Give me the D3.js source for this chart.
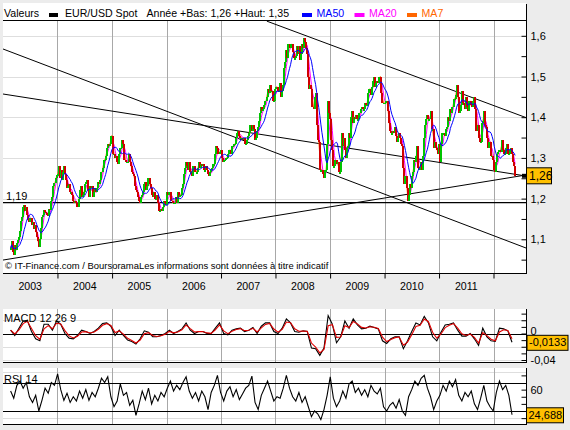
<!DOCTYPE html>
<html><head><meta charset="utf-8">
<script src="https://cdn.jsdelivr.net/npm/d3@7"></script>
<style>
html,body{margin:0;padding:0;background:#ececec;}
svg{display:block;font-family:"Liberation Sans",Arial,sans-serif;}
</style></head><body>
<svg id="c" width="570" height="430"></svg>
<script>
// ---------- DATA ----------
const startDate = "2003-02-21"; // first weekly close
const close2003 = [1.078,1.095,1.070,1.062,1.085,1.073,1.090,1.098,1.105,1.120,1.145,1.156,1.180,1.185,1.170,1.180,1.160,1.148,1.142,1.152,1.135,1.143,1.125,1.135,1.118,1.105,1.095,1.080,1.100,1.128,1.155,1.160,1.172,1.168,1.165,1.160,1.158,1.175,1.172,1.195,1.205,1.230,1.238,1.250,1.258];
const close2004 = [1.260,1.280,1.250,1.270,1.245,1.265,1.280,1.260,1.245,1.225,1.230,1.235,1.215,1.215,1.210,1.195,1.190,1.195,1.190,1.180,1.200,1.220,1.230,1.205,1.210,1.215,1.235,1.240,1.245,1.220,1.205,1.230,1.225,1.230,1.205,1.215,1.225,1.215,1.225,1.240,1.235,1.245,1.265,1.275,1.295,1.295,1.305,1.325,1.335,1.330,1.335,1.355,1.355];
const close2005 = [1.310,1.310,1.300,1.305,1.290,1.285,1.310,1.325,1.325,1.345,1.335,1.295,1.290,1.290,1.290,1.310,1.290,1.280,1.265,1.260,1.255,1.230,1.220,1.215,1.205,1.195,1.190,1.205,1.210,1.215,1.235,1.240,1.220,1.230,1.250,1.235,1.225,1.210,1.205,1.215,1.200,1.200,1.210,1.190,1.170,1.170,1.175,1.170,1.180,1.195,1.190,1.185];
const close2006 = [1.215,1.210,1.215,1.215,1.195,1.190,1.190,1.190,1.205,1.190,1.215,1.205,1.210,1.210,1.225,1.235,1.260,1.275,1.290,1.280,1.270,1.290,1.265,1.265,1.255,1.280,1.280,1.265,1.265,1.275,1.290,1.275,1.285,1.280,1.285,1.270,1.270,1.280,1.270,1.260,1.255,1.265,1.270,1.275,1.285,1.285,1.310,1.330,1.325,1.310,1.315,1.320];
const close2007 = [1.300,1.290,1.295,1.295,1.300,1.300,1.310,1.320,1.320,1.310,1.330,1.330,1.335,1.335,1.350,1.360,1.365,1.355,1.350,1.350,1.345,1.350,1.335,1.335,1.345,1.355,1.360,1.380,1.380,1.365,1.380,1.370,1.345,1.350,1.365,1.375,1.390,1.410,1.425,1.415,1.420,1.430,1.440,1.450,1.470,1.460,1.480,1.465,1.465,1.440,1.440,1.470];
const close2008 = [1.475,1.475,1.465,1.465,1.485,1.450,1.465,1.480,1.520,1.535,1.565,1.545,1.580,1.570,1.580,1.580,1.560,1.545,1.545,1.550,1.575,1.555,1.575,1.540,1.555,1.580,1.570,1.595,1.585,1.570,1.555,1.500,1.470,1.480,1.470,1.425,1.420,1.450,1.460,1.380,1.345,1.340,1.270,1.270,1.270,1.260,1.250,1.270,1.270,1.335,1.440,1.410];
const close2009 = [1.395,1.345,1.320,1.280,1.280,1.295,1.285,1.290,1.265,1.265,1.290,1.360,1.330,1.350,1.320,1.300,1.325,1.330,1.360,1.350,1.400,1.415,1.385,1.400,1.395,1.405,1.395,1.395,1.410,1.420,1.425,1.420,1.420,1.435,1.430,1.430,1.460,1.470,1.470,1.455,1.475,1.490,1.500,1.475,1.485,1.490,1.485,1.500,1.500,1.460,1.435,1.435];
const close2010 = [1.435,1.440,1.440,1.415,1.385,1.365,1.360,1.360,1.365,1.360,1.375,1.355,1.340,1.350,1.360,1.350,1.335,1.330,1.275,1.235,1.255,1.225,1.195,1.210,1.235,1.225,1.255,1.265,1.295,1.290,1.305,1.330,1.275,1.270,1.275,1.290,1.270,1.305,1.350,1.380,1.395,1.405,1.395,1.395,1.415,1.370,1.370,1.325,1.340,1.325,1.320,1.310,1.335];
const close2011 = [1.290,1.335,1.360,1.360,1.360,1.355,1.370,1.375,1.400,1.390,1.420,1.410,1.425,1.445,1.445,1.455,1.480,1.450,1.410,1.415,1.430,1.465,1.435,1.430,1.420,1.450,1.425,1.415,1.440,1.440,1.430,1.425,1.440,1.450,1.420,1.365,1.380,1.350,1.340,1.340,1.385,1.390,1.415,1.380,1.375,1.350,1.325,1.340,1.340,1.305,1.305,1.295];
const close2012 = [1.270,1.265,1.290,1.310,1.315,1.320,1.315,1.345,1.320,1.310,1.310,1.325,1.335,1.310,1.310,1.320,1.325,1.310,1.290,1.280,1.256];

// MACD 12 26 9 : one value every 4 weeks
const macdValues = [.005,-.003,.008,.019,.020,.003,-.008,-.011,.014,.014,.005,.019,.014,0,-.007,-.008,-.003,.005,.003,0,.003,.008,.015,.016,.011,-.003,.005,-.003,-.010,-.012,-.016,-.008,.004,.002,-.005,-.005,-.003,0,.005,0,.003,.007,.016,.005,0,.003,.003,0,0,.008,.016,0,-.002,.005,.007,.008,.003,.005,.009,0,.011,.016,.016,.003,0,.008,.022,.016,.003,.002,.004,.003,-.022,-.023,-.033,-.022,.027,.014,-.014,-.005,.019,.008,.022,.013,.007,.008,.011,.009,.007,-.011,-.015,-.008,-.005,-.005,-.023,-.011,.003,.016,.013,.026,.016,-.005,-.011,.002,.013,.014,.016,.005,-.004,-.004,0,-.008,-.018,.008,-.005,-.011,-.012,.008,.007,.004,-.0133];
// RSI 14 : one value every 3 weeks
const rsiValues = [58,48,66,72,62,70,50,42,52,30,45,62,55,70,66,82,60,45,55,42,50,44,58,48,60,45,56,50,62,76,70,78,50,36,44,68,52,56,38,45,24,40,58,46,62,40,52,44,56,50,62,72,58,66,60,70,78,58,48,56,44,58,50,32,56,66,80,56,44,58,64,50,60,46,54,62,66,79,42,32,52,62,72,58,44,50,48,62,80,62,50,44,56,42,50,36,22,30,26,18,32,52,78,48,36,44,58,48,68,72,56,62,52,60,50,66,58,54,62,36,30,38,42,34,46,30,24,50,60,72,66,76,80,62,50,32,44,52,66,58,72,64,74,52,44,56,50,58,40,32,48,66,44,36,30,56,72,60,66,52,24.688];

const yearLabels = ["2003","2004","2005","2006","2007","2008","2009","2010","2011"];
const yearBounds = ["2004","2005","2006","2007","2008","2009","2010","2011","2012"];
const priceTicks = [1.05,1.1,1.15,1.2,1.25,1.3,1.35,1.4,1.45,1.5,1.55,1.6];
const priceGrid = [1.1,1.2,1.3,1.4,1.5,1.6];
const macdTicks = [0.03,0.02,0.01,0,-0.01,-0.02,-0.03,-0.04];
const macdLabels = [0,-0.04];
const macdGrid = [0.02,-0.02,-0.04];
const rsiTicks = [80,60,50,40,20];
const rsiLabels = [60];
const rsiGrid = [85,20];
const rsiLevels = [70,30];
const supportLevel = 1.19;
const trendLines = [
  [["2003-01-01",1.5676],["2012-08-06",1.0786]],
  [["2003-01-01",1.4570],["2012-08-06",1.2555]],
  [["2003-01-01",1.0490],["2012-08-06",1.2580]],
  [["2007-11-04",1.6360],["2012-08-06",1.3990]]
];
const legendItems = [
  {name:"MA50", color:"#0000ff", period:10},
  {name:"MA20", color:"#ff00ff", period:4},
  {name:"MA7",  color:"#ff6600", period:2}
];
const headerStats = "Année +Bas: 1,26 +Haut: 1,35";

// ---------- SETUP ----------
const svg = d3.select("#c");
const parse = d3.timeParse("%Y-%m-%d");
const loc = d3.formatLocale({decimal:",", thousands:"\u00a0", grouping:[3], currency:["",""], minus:"-"});
const f1 = loc.format(".1f"), f2 = loc.format(".2f"), f3 = loc.format(".3f"), f4 = loc.format(".4f");

const closes = [].concat(close2003,close2004,close2005,close2006,close2007,close2008,close2009,close2010,close2011,close2012);
const t0 = parse(startDate);
const dates = closes.map((_,i)=>d3.timeDay.offset(t0, 7*i));
const macdDates = macdValues.map((_,i)=>d3.timeDay.offset(t0, 28*i));
const rsiDates = rsiValues.map((_,i)=>d3.timeDay.offset(t0, 21*i));

const L = 3, R = 526;
const x = d3.scaleTime().domain([parse("2003-01-01"), parse("2012-01-01")]).range([3, 493.5]);
const y = d3.scaleLinear().domain([1.1,1.6]).range([239.3,35.8]);
const yM = d3.scaleLinear().domain([0,-0.04]).range([333.5,360]);
const yR = d3.scaleLinear().domain([70,30]).range([382.5,411]);

const P = {top:3, head:20, bot:273};
const MP = {top:309, bot:362};
const RP = {top:368, bot:424};

// panels
[[P.top,P.bot],[MP.top,MP.bot],[RP.top,RP.bot]].forEach(([t,b])=>{
  svg.append("rect").attr("x",L).attr("y",t).attr("width",R-L).attr("height",b-t).attr("fill","#fff");
});

const crisp = g => g.attr("shape-rendering","crispEdges");

// horizontal grid
const grid = svg.append("g").call(crisp);
priceGrid.forEach(v=>grid.append("line").attr("x1",L).attr("x2",R).attr("y1",Math.round(y(v))+0.5).attr("y2",Math.round(y(v))+0.5).attr("stroke","#dedede"));
macdGrid.forEach(v=>grid.append("line").attr("x1",L).attr("x2",R).attr("y1",Math.round(yM(v))+0.5).attr("y2",Math.round(yM(v))+0.5).attr("stroke","#dedede"));
rsiGrid.forEach(v=>grid.append("line").attr("x1",L).attr("x2",R).attr("y1",Math.round(yR(v))+0.5).attr("y2",Math.round(yR(v))+0.5).attr("stroke","#dedede"));

// vertical year grid
yearBounds.forEach(yr=>{
  const xv = Math.round(x(parse(yr+"-01-01")))+0.5;
  [[P.head,P.bot],[MP.top,MP.bot],[RP.top,RP.bot]].forEach(([t,b])=>{
    grid.append("line").attr("x1",xv).attr("x2",xv).attr("y1",t).attr("y2",b).attr("stroke","#a8a8a8");
  });
});

// clips
svg.append("clipPath").attr("id","mainClip").append("rect").attr("x",L).attr("y",P.head+1).attr("width",R-L).attr("height",P.bot-P.head-1);
svg.append("clipPath").attr("id","macdClip").append("rect").attr("x",L).attr("y",MP.top).attr("width",R-L).attr("height",MP.bot-MP.top);
svg.append("clipPath").attr("id","rsiClip").append("rect").attr("x",L).attr("y",RP.top).attr("width",R-L).attr("height",RP.bot-RP.top);

const main = svg.append("g").attr("clip-path","url(#mainClip)");

// support line 1.19
main.append("line").attr("x1",L).attr("x2",R).attr("y1",y(supportLevel)).attr("y2",y(supportLevel)).attr("stroke","#000").attr("stroke-width",1.2);

// trend lines
trendLines.forEach(seg=>{
  main.append("line")
    .attr("x1",x(parse(seg[0][0]))).attr("y1",y(seg[0][1]))
    .attr("x2",x(parse(seg[1][0]))).attr("y2",y(seg[1][1]))
    .attr("stroke","#000").attr("stroke-width",1);
});

// moving averages
const sma = w => closes.map((_,i)=>d3.mean(closes.slice(Math.max(0,i-w+1), i+1)));
const priceLine = d3.line().x((d,i)=>x(dates[i])).y(d=>y(d));
const drawMA = it => main.append("path").datum(sma(it.period)).attr("d",priceLine)
    .attr("fill","none").attr("stroke",it.color).attr("stroke-width",1);
drawMA(legendItems[2]);
drawMA(legendItems[1]);

// candles (open = previous close)
const candles = main.append("g").call(crisp);
closes.forEach((c,i)=>{
  const o = i ? closes[i-1] : c;
  const y1 = y(Math.max(o,c)), y2 = y(Math.min(o,c));
  candles.append("rect")
    .attr("x",x(dates[i])-1).attr("width",2)
    .attr("y",y1).attr("height",Math.max(1.5,y2-y1))
    .attr("fill", c>=o ? "#00c400" : "#d00000");
});
drawMA(legendItems[0]);

// frames
const frame = svg.append("g").call(crisp).attr("stroke","#000");
frame.append("line").attr("x1",L).attr("x2",R).attr("y1",P.head+0.5).attr("y2",P.head+0.5);
frame.append("line").attr("x1",L).attr("x2",R+1).attr("y1",P.bot+0.5).attr("y2",P.bot+0.5);
frame.append("line").attr("x1",R+0.5).attr("x2",R+0.5).attr("y1",P.top+1).attr("y2",P.bot);
frame.append("line").attr("x1",L).attr("x2",R+1).attr("y1",MP.bot+0.5).attr("y2",MP.bot+0.5);
frame.append("line").attr("x1",R+0.5).attr("x2",R+0.5).attr("y1",MP.top).attr("y2",MP.bot);
frame.append("line").attr("x1",L).attr("x2",R+1).attr("y1",RP.bot+0.5).attr("y2",RP.bot+0.5);
frame.append("line").attr("x1",R+0.5).attr("x2",R+0.5).attr("y1",RP.top).attr("y2",RP.bot);

// price axis (right)
const yAxis = d3.axisRight(y).tickValues(priceTicks).tickSize(-5).tickPadding(4)
  .tickFormat(d=> priceGrid.some(g=>Math.abs(g-d)<1e-9) ? f1(d) : "");
svg.append("g").attr("transform",`translate(${R+0.5},0)`).call(yAxis)
  .call(g=>{g.select(".domain").remove(); g.selectAll("text").attr("font-size",11).attr("fill","#000").attr("font-family","Liberation Sans, Arial");});

// time axis
const xAxis = d3.axisBottom(x).tickValues(yearBounds.map(yr=>parse(yr+"-01-01"))).tickSize(5).tickFormat("");
svg.append("g").attr("transform",`translate(0,${P.bot+0.5})`).call(xAxis).call(g=>g.select(".domain").remove());
svg.append("g").selectAll("text").data(yearLabels).join("text")
  .attr("x",d=>(x(parse(d+"-01-01"))+x(parse((+d+1)+"-01-01")))/2)
  .attr("y",290).attr("text-anchor","middle").attr("font-size",10.6).text(d=>d);

// last price box
const lastClose = closes[closes.length-1];
const lastY = y(lastClose);
svg.append("rect").attr("x",R-4).attr("y",lastY-2).attr("width",4).attr("height",4).attr("fill","#000");
svg.append("rect").attr("x",R+0.5).attr("y",lastY-8).attr("width",25).attr("height",16).attr("fill","#ffc000").attr("stroke","#000");
svg.append("text").attr("x",R+3).attr("y",lastY).attr("dy","0.36em").attr("font-size",12).text(f2(lastClose));

// support label
svg.append("text").attr("x",6).attr("y",y(supportLevel)-3).attr("font-size",11).text(f2(supportLevel));

// copyright
const cp = svg.append("text").attr("x",5).attr("y",269).attr("font-size",11)
  .text("© IT-Finance.com / BoursoramaLes informations sont données à titre indicatif");
const cpl = cp.node().getComputedTextLength();
cp.attr("font-size", 11*324/cpl);

// header legend
const hy = 17, hf = 10.6;
svg.append("text").attr("x",4).attr("y",hy).attr("font-size",hf).text("Valeurs");
svg.append("rect").attr("x",49).attr("y",13).attr("width",9).attr("height",4).attr("fill","#000");
svg.append("text").attr("x",65).attr("y",hy).attr("font-size",hf).text("EUR/USD Spot");
svg.append("text").attr("x",146.5).attr("y",hy).attr("font-size",hf).text(headerStats);
const legX = [302,354.5,407];
legendItems.forEach((it,i)=>{
  svg.append("rect").attr("x",legX[i]).attr("y",13).attr("width",10).attr("height",4).attr("fill",it.color);
  svg.append("text").attr("x",legX[i]+14.5).attr("y",hy).attr("font-size",hf).attr("fill",it.color).text(it.name);
});

// ---------- MACD ----------
const mg = svg.append("g").attr("clip-path","url(#macdClip)");
mg.append("line").attr("x1",L).attr("x2",R).attr("y1",Math.round(yM(0))+0.5).attr("y2",Math.round(yM(0))+0.5).attr("stroke","#000").call(crisp);
const signal = [];
macdValues.forEach((v,i)=>signal.push(i? signal[i-1]+0.7*(v-signal[i-1]) : v));
const mLine = d3.line().x((d,i)=>x(macdDates[i])).y(d=>yM(d));
mg.append("path").datum(macdValues).attr("d",mLine).attr("fill","none").attr("stroke","#000").attr("stroke-width",1.1);
mg.append("path").datum(signal).attr("d",mLine).attr("fill","none").attr("stroke","#e00000").attr("stroke-width",1.1);
svg.append("text").attr("x",4).attr("y",322).attr("font-size",11).text("MACD 12 26 9");
svg.append("g").attr("transform",`translate(${R+0.5},0)`)
  .call(d3.axisRight(yM).tickValues(macdTicks).tickSize(-5).tickPadding(4)
    .tickFormat(d=> macdLabels.includes(d) ? (d===0?"0":f2(d)) : ""))
  .call(g=>{g.select(".domain").remove();
    g.selectAll("text").attr("font-size",11).attr("font-family","Liberation Sans, Arial");
    g.selectAll(".tick text").filter(d=>d===0).attr("dy","0.05em");});
const lastM = macdValues[macdValues.length-1];
svg.append("rect").attr("x",R+1).attr("y",yM(lastM)-7).attr("width",41).attr("height",15).attr("fill","#ffc000").attr("stroke","#000");
svg.append("text").attr("x",R+3).attr("y",yM(lastM)).attr("dy","0.38em").attr("font-size",11).text(f4(lastM));

// ---------- RSI ----------
const rg = svg.append("g").attr("clip-path","url(#rsiClip)");
rsiLevels.forEach(v=>rg.append("line").attr("x1",L).attr("x2",R).attr("y1",Math.round(yR(v))+0.5).attr("y2",Math.round(yR(v))+0.5).attr("stroke","#000").call(crisp));
rg.append("path").datum(rsiValues).attr("d",d3.line().x((d,i)=>x(rsiDates[i])).y(d=>yR(d)))
  .attr("fill","none").attr("stroke","#000").attr("stroke-width",1.1);
svg.append("text").attr("x",4).attr("y",383).attr("font-size",11).text("RSI 14");
svg.append("g").attr("transform",`translate(${R+0.5},0)`)
  .call(d3.axisRight(yR).tickValues(rsiTicks).tickSize(-5).tickPadding(4)
    .tickFormat(d=> rsiLabels.includes(d) ? String(d) : ""))
  .call(g=>{g.select(".domain").remove(); g.selectAll("text").attr("font-size",11).attr("font-family","Liberation Sans, Arial");});
const lastR = rsiValues[rsiValues.length-1];
svg.append("rect").attr("x",R+0.5).attr("y",yR(lastR)-7).attr("width",37).attr("height",15).attr("fill","#ffc000").attr("stroke","#000");
svg.append("text").attr("x",R+2.5).attr("y",yR(lastR)).attr("dy","0.38em").attr("font-size",11).text(f3(lastR));
</script>
</body></html>
